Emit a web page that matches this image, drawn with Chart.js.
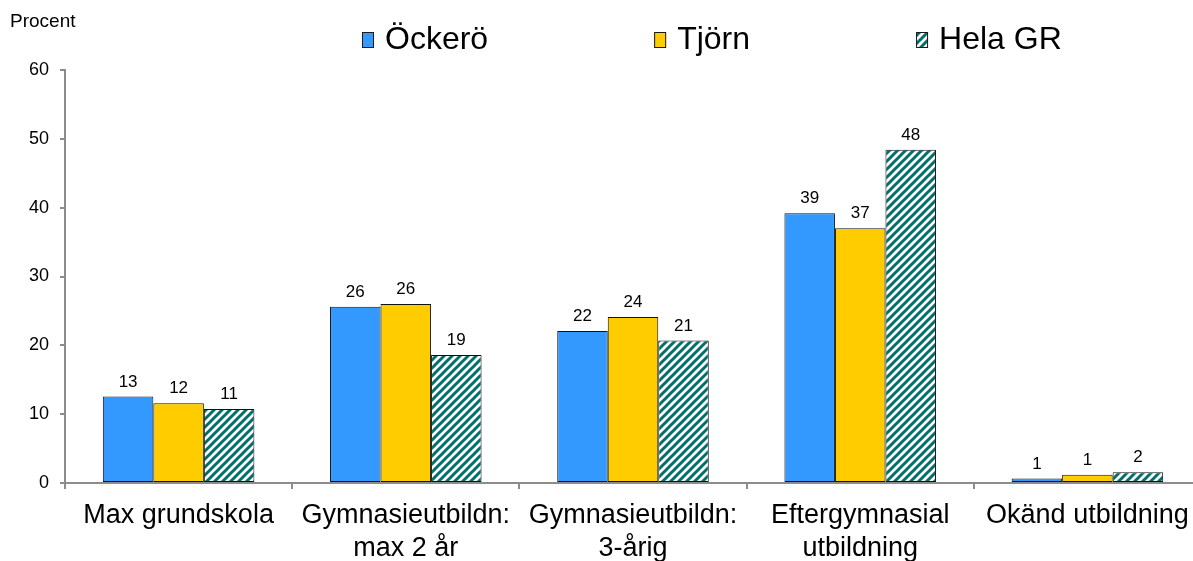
<!DOCTYPE html>
<html>
<head>
<meta charset="utf-8">
<script src="https://cdn.jsdelivr.net/npm/chart.js@4/dist/chart.umd.min.js"></script>
<style>
  html, body { margin: 0; padding: 0; background: #fff; overflow: hidden; }
  #wrap { width: 1201px; height: 561px; position: relative; }
</style>
</head>
<body>
<div id="wrap"><canvas id="c"></canvas></div>
<script>
// ---- data ----
const categories = [
  ['Max grundskola'],
  ['Gymnasieutbildn:', 'max 2 år'],
  ['Gymnasieutbildn:', '3-årig'],
  ['Eftergymnasial', 'utbildning'],
  ['Okänd utbildning']
];
const seriesNames = ['Öckerö', 'Tjörn', 'Hela GR'];
const ockero = [12.55, 25.6, 22.1, 39.2, 0.65];
const tjorn  = [11.6, 26.0, 24.1, 37.0, 1.2];
const helaGR = [10.76, 18.6, 20.7, 48.4, 1.55];
const yTicks = [0, 10, 20, 30, 40, 50, 60];
const yAxisTitle = 'Procent';

const FONT = "'Liberation Sans', Arial, Helvetica, sans-serif";
const canvas = document.getElementById('c');
const ctx = canvas.getContext('2d');

function makeHatch() {
  const c = document.createElement('canvas');
  c.width = 8; c.height = 8;
  const x = c.getContext('2d');
  x.fillStyle = '#ffffff';
  x.fillRect(0, 0, 8, 8);
  x.strokeStyle = '#00706A';
  x.lineWidth = 3;
  x.beginPath();
  x.moveTo(-2, 10); x.lineTo(10, -2);
  x.moveTo(-6, 6); x.lineTo(6, -6);
  x.moveTo(2, 14); x.lineTo(14, 2);
  x.stroke();
  return ctx.createPattern(c, 'repeat');
}
const hatch = makeHatch();
const fills = ['#3399FF', '#FFCC00', hatch];

const valueLabels = {
  id: 'valueLabels',
  afterDatasetsDraw(chart) {
    const c = chart.ctx;
    c.save();
    c.font = '17px ' + FONT;
    c.fillStyle = '#000';
    c.textAlign = 'center';
    c.textBaseline = 'alphabetic';
    chart.data.datasets.forEach((ds, i) => {
      chart.getDatasetMeta(i).data.forEach((bar, j) => {
        c.fillText(String(Math.round(ds.data[j])), bar.x, bar.y - 10);
      });
    });
    c.restore();
  }
};

const customLegend = {
  id: 'customLegend',
  afterDraw(chart) {
    const c = chart.ctx;
    c.save();
    // y-axis title
    c.font = '19px ' + FONT;
    c.fillStyle = '#000';
    c.textAlign = 'left';
    c.textBaseline = 'alphabetic';
    c.fillText(yAxisTitle, 10, 27);
    // legend
    c.font = '32px ' + FONT;
    c.textBaseline = 'middle';
    let x = 362;
    chart.data.datasets.forEach((ds, i) => {
      c.fillStyle = ds.backgroundColor;
      c.fillRect(x, 32, 12, 16);
      c.strokeStyle = '#1a1a1a';
      c.lineWidth = 1;
      c.strokeRect(x + 0.5, 32.5, 11, 15);
      c.fillStyle = '#000';
      const tx = x + 23;
      c.fillText(ds.label, tx, 40);
      x = tx + c.measureText(ds.label).width + 166;
    });
    c.restore();
  }
};

new Chart(canvas, {
  type: 'bar',
  data: {
    labels: categories,
    datasets: [ockero, tjorn, helaGR].map((d, i) => ({
      label: seriesNames[i],
      data: d,
      backgroundColor: fills[i],
      borderColor: '#111',
      borderWidth: 1,
      borderSkipped: false,
      categoryPercentage: 0.667,
      barPercentage: 1.0
    }))
  },
  options: {
    responsive: true,
    maintainAspectRatio: false,
    devicePixelRatio: 1,
    animation: false,
    layout: { padding: { top: 70, left: 0, right: 0, bottom: 0 } },
    plugins: {
      legend: { display: false },
      title: { display: false },
      tooltip: { enabled: false }
    },
    scales: {
      x: {
        grid: { display: true, drawOnChartArea: false, drawTicks: true, tickLength: 6, color: '#8c8c8c', lineWidth: 2, offset: true },
        border: { display: true, color: '#8c8c8c', width: 2 },
        ticks: { color: '#000', font: { family: FONT, size: 27, lineHeight: 1.22 }, padding: 10, maxRotation: 0, autoSkip: false },
        afterFit(scale) { scale.height = 78; }
      },
      y: {
        min: yTicks[0],
        max: yTicks[yTicks.length - 1],
        afterBuildTicks(scale) { scale.ticks = yTicks.map(v => ({ value: v })); },
        grid: { display: true, drawOnChartArea: false, drawTicks: true, tickLength: 5, color: '#8c8c8c', lineWidth: 2 },
        border: { display: true, color: '#8c8c8c', width: 2 },
        ticks: { color: '#000', font: { family: FONT, size: 18 }, padding: 11 },
        afterFit(scale) { scale.width = 65; }
      }
    }
  },
  plugins: [valueLabels, customLegend]
});
</script>
</body>
</html>
